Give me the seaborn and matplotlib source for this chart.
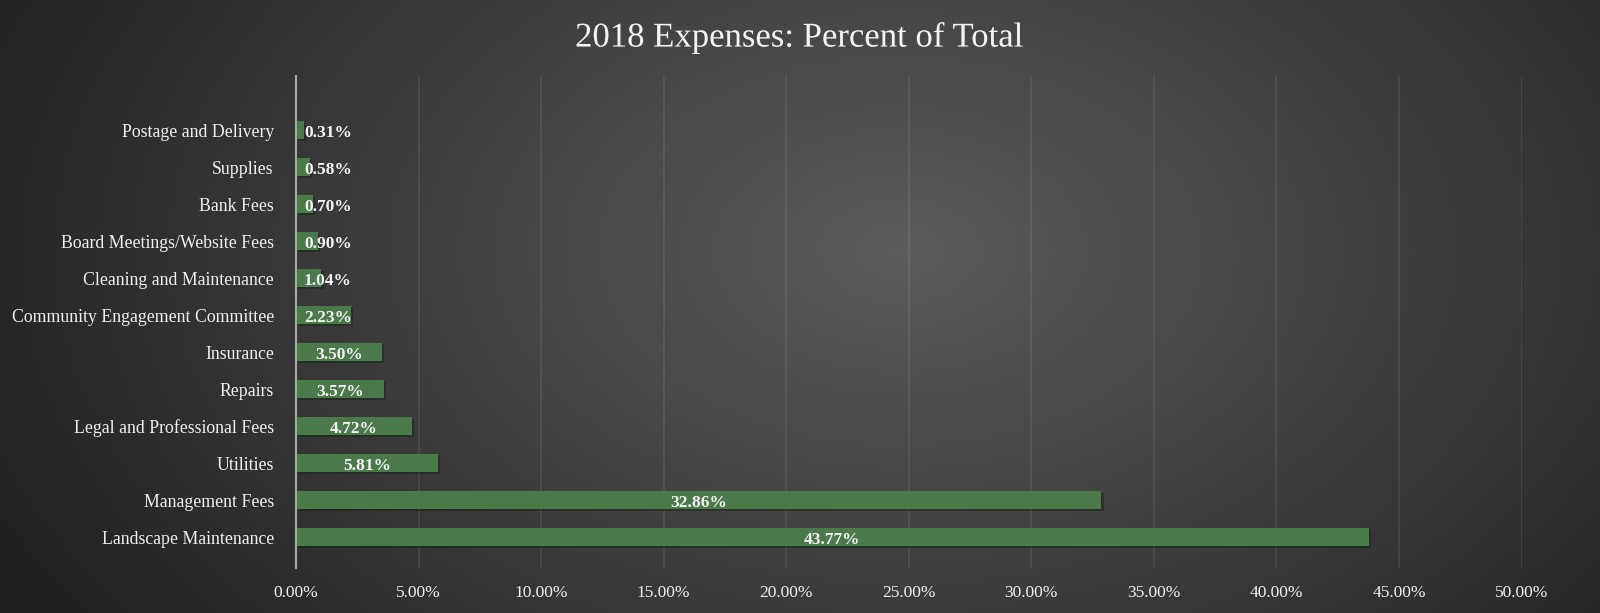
import numpy as np
import pandas as pd
import matplotlib
matplotlib.use("Agg")
import matplotlib.pyplot as plt
import matplotlib.patheffects as pe
import seaborn as sns

categories = ["Postage and Delivery", "Supplies", "Bank Fees", "Board Meetings/Website Fees",
              "Cleaning and Maintenance", "Community Engagement Committee", "Insurance", "Repairs",
              "Legal and Professional Fees", "Utilities", "Management Fees", "Landscape Maintenance"]
values = [0.31, 0.58, 0.70, 0.90, 1.04, 2.23, 3.50, 3.57, 4.72, 5.81, 32.86, 43.77]
xticks = [0, 5, 10, 15, 20, 25, 30, 35, 40, 45, 50]
title = "2018 Expenses: Percent of Total"

df = pd.DataFrame({"cat": categories, "val": values})

sns.set_theme(style="white")
plt.rcParams["font.family"] = ["Liberation Serif", "DejaVu Serif"]

fig = plt.figure(figsize=(16, 6.13), dpi=100)

# radial gradient background
bg = fig.add_axes([0, 0, 1, 1], zorder=0)
yy, xx = np.mgrid[0:613, 0:1600]
cx, cy = 900, 250
d = np.sqrt(((xx - cx) / 1000.0) ** 2 + ((yy - cy) / 650.0) ** 2)
d = np.clip(d, 0, 1)
c0, c1 = 0.36, 0.13
img = c0 + (c1 - c0) * d
bg.imshow(np.dstack([img, img, img]), aspect="auto", extent=[0, 1, 0, 1], origin="upper")
bg.axis("off")

ax = fig.add_axes([0.185, 0.073, 0.766, 0.803], zorder=1)
ax.patch.set_alpha(0)

bar_color = "#4a7a4a"
sns.barplot(data=df, x="val", y="cat", order=categories, color=bar_color, width=0.5,
            saturation=1, ax=ax, zorder=3, edgecolor="none")

for p in ax.patches:
    p.set_path_effects([pe.SimplePatchShadow(offset=(1.5, -1.5), alpha=0.5), pe.Normal()])

ax.set_xlim(0, 50)
ax.set_ylim(11.84, -1.46)
ax.set_xticks(xticks)
ax.set_xticklabels([f"{t:.2f}%" for t in xticks])
ax.set_xlabel("")
ax.set_ylabel("")

txt_color = "#f0f0f0"

ax.tick_params(axis="x", colors=txt_color, labelsize=12.5, length=0, pad=12)
ax.tick_params(axis="y", colors=txt_color, labelsize=12.8, length=0, pad=16)
for lab in ax.get_xticklabels() + ax.get_yticklabels():
    lab.set_color(txt_color)

ax.grid(axis="x", color="white", alpha=0.09, linewidth=1.2, zorder=0)
ax.set_axisbelow(True)
for s in ["top", "right", "bottom"]:
    ax.spines[s].set_visible(False)
ax.spines["left"].set_color("#a8a8a8")
ax.spines["left"].set_linewidth(1.5)
ax.spines["left"].set_zorder(4)

for i, v in enumerate(values):
    xpos = max(v / 2.0, 1.3)
    ax.text(xpos, i + 0.08, f"{v:.2f}%", ha="center", va="center", color="#f4f4f4",
            fontsize=12.5, fontweight="bold", zorder=5)

fig.text(0.5, 0.938, title, ha="center", va="center", color="#f4f4f4", fontsize=25,
         path_effects=[pe.withSimplePatchShadow(offset=(1.5, -1.5), alpha=0.6)])

fig.savefig("out.png", dpi=100)
